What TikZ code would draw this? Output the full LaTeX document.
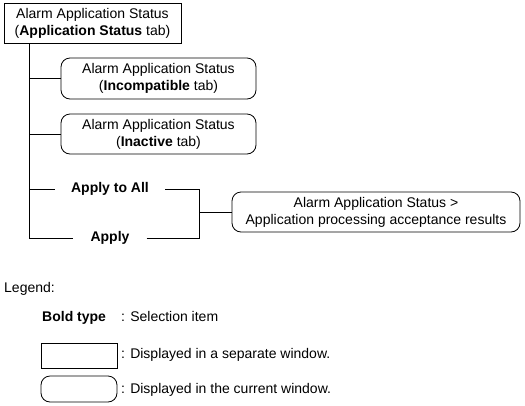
\documentclass[tikz,border=0pt]{standalone}
\usepackage{fontspec}
\setmainfont{Liberation Sans}
\begin{document}
\begin{tikzpicture}[x=1pt,y=-1pt,
  every node/.style={font=\fontsize{14}{17}\selectfont, inner sep=0pt},
  win/.style={draw, line width=0.8pt, align=center},
  cur/.style={draw, line width=0.8pt, rounded corners=9pt, align=center},
  conn/.style={line width=0.8pt},
  lbl/.style={anchor=base west}]
\useasboundingbox (0,0) rectangle (525,405);
% main nodes
\node[win, minimum width=177pt, minimum height=40pt] (top) at (92.5,23.5)
  {Alarm Application Status\\(\textbf{Application Status} tab)};
\node[cur, minimum width=195pt, minimum height=41pt] (inc) at (158.5,78.5)
  {Alarm Application Status\\(\textbf{Incompatible} tab)};
\node[cur, minimum width=195pt, minimum height=40pt] (ina) at (158.5,134)
  {Alarm Application Status\\(\textbf{Inactive} tab)};
\node[inner xsep=16pt] (all) at (110,189) {\textbf{Apply to All}};
\node[inner xsep=17pt] (app) at (110,238) {\textbf{Apply}};
\node[cur, minimum width=288pt, minimum height=40pt] (res) at (376,212)
  {Alarm Application Status >\\Application processing acceptance results};
% connectors
\coordinate (spine) at (29,43);
\coordinate (j) at (199,212);
\draw[conn] (top.south -| spine) |- (app.west);
\draw[conn] (spine |- inc.west) -- (inc.west);
\draw[conn] (spine |- ina.west) -- (ina.west);
\draw[conn] (spine |- all.west) -- (all.west);
\draw[conn] (all.east) -| (j);
\draw[conn] (app.east) -| (j);
\draw[conn] (j) -- (res.west);
% legend
\node[lbl] (leg) at (4,292) {Legend:};
\node[lbl] (bt) at (42,321) {\textbf{Bold type}};
\node[lbl] (bt2) at (121,321) {: Selection item};
\node[draw, line width=0.8pt, minimum width=76pt, minimum height=25pt] (lr) at (79,355.5) {};
\node[lbl] (lr2) at (121,358) {: Displayed in a separate window.};
\node[draw, line width=0.8pt, rounded corners=9pt, minimum width=76pt, minimum height=26pt] (lc) at (79,389) {};
\node[lbl] (lc2) at (121,393) {: Displayed in the current window.};
\end{tikzpicture}
\end{document}
